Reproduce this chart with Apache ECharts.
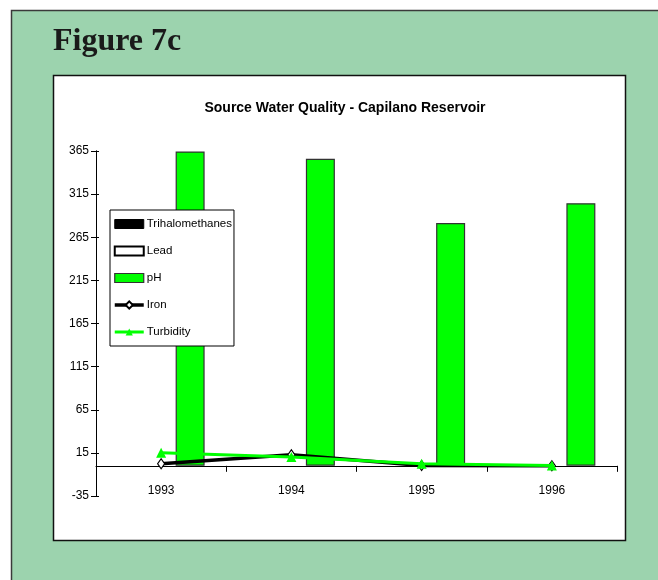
<!DOCTYPE html>
<html><head><meta charset="utf-8">
<script src="https://cdn.jsdelivr.net/npm/echarts@6/dist/echarts.min.js"></script>
<style>html,body{margin:0;padding:0;background:#fff}#c{width:658px;height:580px}</style>
</head><body><div id="c"></div>
<script>
const years = ['1993', '1994', '1995', '1996'];
const trihalomethanes = [0, 0, 0, 0];
const lead = [0, 0, 0, 0];
const pH = [364.5, 356, 281.6, 304.5];
const iron = [2.3, 12.8, 0.3, 0];
const turbidity = [15.2, 10.2, 2.3, 0.5];
const yMin = -35, yMax = 365, yStep = 50;

const sans = '"Liberation Sans",Arial,sans-serif';
const chart = echarts.init(document.getElementById('c'), null, {renderer: 'canvas'});
const yAxisBase = {
  type: 'value', min: yMin, max: yMax, interval: yStep,
  splitLine: {show: false},
  axisLine: {show: true, lineStyle: {color: '#000', width: 1}}
};
chart.setOption({
  animation: false,
  backgroundColor: '#ffffff',
  graphic: [
    {type: 'rect', z: -10, shape: {x: 11.5, y: 10.5, width: 660, height: 580},
     style: {fill: '#9CD3AE', stroke: '#3a3a3a', lineWidth: 1.5}},
    {type: 'rect', z: -9, shape: {x: 53.5, y: 75.5, width: 572, height: 465},
     style: {fill: '#ffffff', stroke: '#111', lineWidth: 1.5}},
    {type: 'text', z: 5, left: 53, top: 26,
     style: {text: 'Figure 7c', font: 'bold 32px "Liberation Serif","Times New Roman",serif', fill: '#1a1a1a'}}
  ],
  title: {
    text: 'Source Water Quality - Capilano Reservoir',
    left: 340, top: 96, textAlign: 'center',
    textStyle: {fontFamily: sans, fontWeight: 'bold', fontSize: 14, color: '#000'}
  },
  legend: {
    orient: 'vertical', left: 110, top: 210,
    padding: [7, 2, 7, 3],
    backgroundColor: '#fff', borderColor: '#000', borderWidth: 1,
    itemWidth: 29, itemHeight: 9, itemGap: 13,
    textStyle: {fontFamily: sans, fontSize: 11.5, lineHeight: 14, color: '#000', padding: [0, 0, 0, -2]},
    data: [
      {name: 'Trihalomethanes', icon: 'rect', itemStyle: {color: '#000', borderColor: '#000', borderWidth: 1}},
      {name: 'Lead', icon: 'rect', itemStyle: {color: '#fff', borderColor: '#000', borderWidth: 2}},
      {name: 'pH', icon: 'rect', itemStyle: {color: '#00FF00', borderColor: '#333', borderWidth: 1.2}},
      {name: 'Iron', lineStyle: {color: '#000', width: 3.5}},
      {name: 'Turbidity', lineStyle: {color: '#00FF00', width: 3}}
    ]
  },
  grid: {left: 96, right: 41, top: 151, bottom: 84, containLabel: false},
  xAxis: {
    type: 'category', data: years, boundaryGap: true,
    axisLine: {onZero: true, lineStyle: {color: '#000', width: 1}},
    axisTick: {show: true, alignWithLabel: false, inside: false, length: 6, lineStyle: {color: '#000'}},
    axisLabel: {margin: -11, fontFamily: sans, fontSize: 12, color: '#000'}
  },
  yAxis: [
    Object.assign({}, yAxisBase, {
      axisTick: {show: true, inside: false, length: 5, lineStyle: {color: '#000'}},
      axisLabel: {margin: 7, fontFamily: sans, fontSize: 12, color: '#000'}
    }),
    Object.assign({}, yAxisBase, {
      position: 'left', offset: 0,
      axisTick: {show: true, inside: true, length: 3, lineStyle: {color: '#000'}},
      axisLabel: {show: false}
    })
  ],
  series: [
    {name: 'Trihalomethanes', type: 'bar', data: trihalomethanes, barWidth: 29, barGap: '0%',
     itemStyle: {color: '#000', borderWidth: 0}},
    {name: 'Lead', type: 'bar', data: lead, barWidth: 29, barGap: '0%',
     itemStyle: {color: '#fff', borderColor: '#000', borderWidth: 0}},
    {name: 'pH', type: 'bar', data: pH, barWidth: 29, barGap: '0%',
     itemStyle: {color: '#00FF00', borderColor: '#333', borderWidth: 1.2}},
    {name: 'Iron', type: 'line', data: iron, z: 4,
     lineStyle: {color: '#000', width: 3.5},
     symbol: 'diamond', symbolSize: [7, 10], showAllSymbol: true,
     itemStyle: {color: '#fff', borderColor: '#000', borderWidth: 1.2}},
    {name: 'Turbidity', type: 'line', data: turbidity, z: 5,
     lineStyle: {color: '#00FF00', width: 3},
     symbol: 'triangle', symbolSize: 10, showAllSymbol: true,
     itemStyle: {color: '#00FF00', borderColor: '#00FF00', borderWidth: 0}}
  ]
});
</script>
</body></html>
